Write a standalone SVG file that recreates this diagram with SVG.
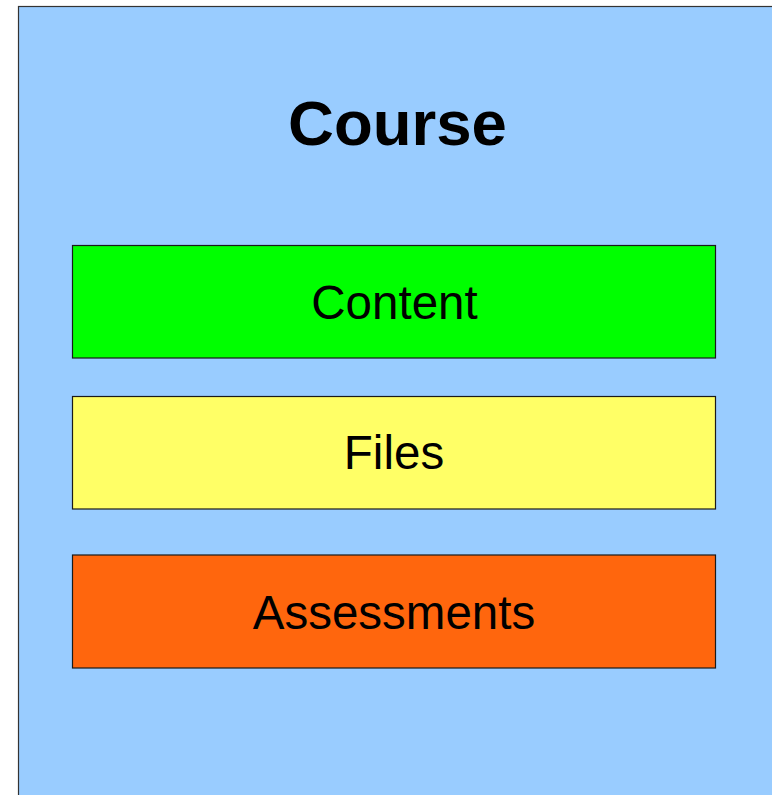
<svg xmlns="http://www.w3.org/2000/svg" width="772" height="795" viewBox="0 0 772 795">
<style>
.box{stroke:#1a1a1a;stroke-width:1.2}
.lbl{font-family:"Liberation Sans",Arial,sans-serif;font-size:47.5px;fill:#000;text-anchor:middle}
</style>
<rect width="772" height="795" fill="#ffffff"/>
<g id="course">
<rect x="18.5" y="6.5" width="760" height="800" fill="#99ccff" stroke="#333333" stroke-width="1.2"/>
<text x="397.5" y="145" font-family="'Liberation Sans',Arial,sans-serif" font-size="63.5" font-weight="bold" text-anchor="middle" fill="#000">Course</text>
</g>
<g id="content">
<rect class="box" x="72.5" y="245.5" width="643" height="112.5" fill="#00ff00"/>
<text class="lbl" x="394.5" y="319">Content</text>
</g>
<g id="files">
<rect class="box" x="72.5" y="396.5" width="643" height="112.5" fill="#ffff66"/>
<text class="lbl" x="394" y="469">Files</text>
</g>
<g id="assessments">
<rect class="box" x="72.5" y="555" width="643" height="113" fill="#ff660d"/>
<text class="lbl" x="394" y="629">Assessments</text>
</g>
<g id="connectors"/>
</svg>
